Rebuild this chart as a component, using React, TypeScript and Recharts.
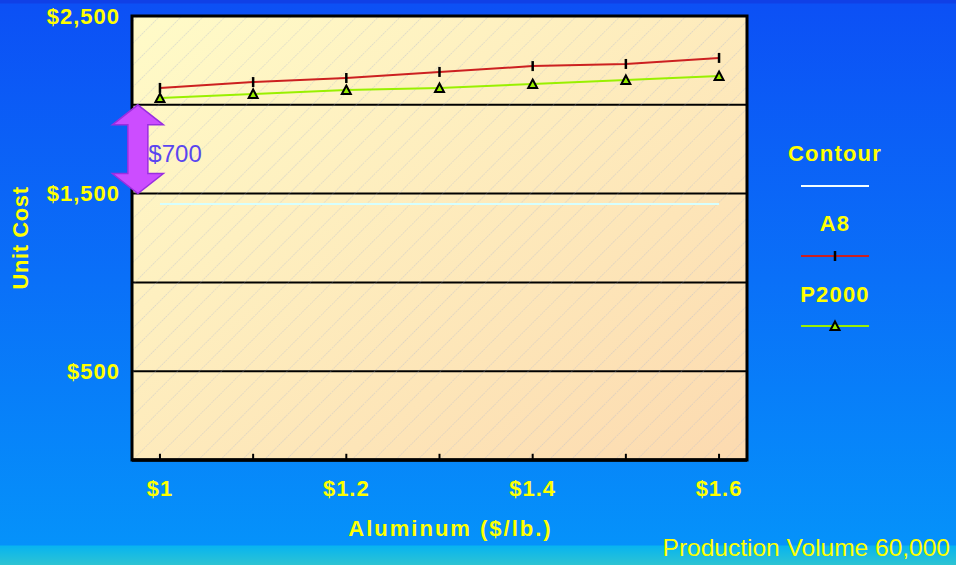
import React from 'react';
import {
  LineChart,
  Line,
  XAxis,
  YAxis,
  CartesianGrid,
  ReferenceArea,
  ReferenceLine,
  Legend,
} from 'recharts';

// aluminum price ($/lb.)
const prices = [1, 1.1, 1.2, 1.3, 1.4, 1.5, 1.6];
// unit cost per design
const a8Cost = [2095, 2128, 2151, 2185, 2218, 2230, 2264];
const p2000Cost = [2038, 2061, 2083, 2095, 2117, 2140, 2162];
const contourCost = [1442, 1442, 1442, 1442, 1442, 1442, 1442];

const seriesOrder = ['Contour', 'A8', 'P2000'];
const yTicks = [0, 500, 1000, 1500, 2000, 2500];
const xLabelTicks = [1, 1.2, 1.4, 1.6];

// the "$700" gap marker
const gapFrom = 1500;
const gapTo = 2000;
const gapText = '$700';

const YELLOW = '#ffff00';
const FONT = '"Liberation Sans", Arial, sans-serif';

const data = prices.map((p, i) => ({
  price: p,
  Contour: contourCost[i],
  A8: a8Cost[i],
  P2000: p2000Cost[i],
}));

const TickMark = ({ cx, cy }: any) => (
  <line x1={cx} y1={cy - 5} x2={cx} y2={cy + 5} stroke="#000" strokeWidth={2.5} />
);

const Triangle = ({ cx, cy }: any) => (
  <polygon
    points={`${cx},${cy - 4.5} ${cx + 4.5},${cy + 4} ${cx - 4.5},${cy + 4}`}
    fill="#99ee00"
    stroke="#000"
    strokeWidth={2}
  />
);

const markers: Record<string, any> = { A8: TickMark, P2000: Triangle };

const GapArrow = (props: any) => {
  const { x, y, width, height } = props;
  const cx = x + width / 2;
  const top = y;
  const bot = y + height;
  const hw = 25.5;
  const sw = 10;
  const hl = 20;
  const pts = [
    [cx, top],
    [cx + hw, top + hl],
    [cx + sw, top + hl],
    [cx + sw, bot - hl],
    [cx + hw, bot - hl],
    [cx, bot],
    [cx - hw, bot - hl],
    [cx - sw, bot - hl],
    [cx - sw, top + hl],
    [cx - hw, top + hl],
  ]
    .map((p) => p.join(','))
    .join(' ');
  return (
    <g>
      <polygon points={pts} fill="#cc4dff" stroke="#9a2ee0" strokeWidth={1.5} />
      <text
        x={cx + 10.5}
        y={top + height / 2 + 12.5}
        fill="#5a46f0"
        fontSize={24}
        fontFamily={FONT}
      >
        {gapText}
      </text>
    </g>
  );
};

const LegendContent = ({ payload }: any) => {
  const items = [...(payload || [])].sort(
    (a: any, b: any) => seriesOrder.indexOf(a.value) - seriesOrder.indexOf(b.value)
  );
  return (
    <svg width={180} height={215}>
      {items.map((entry: any, i: number) => {
        const Marker = markers[entry.value];
        const ty = 23 + i * 70.5;
        const ly = 56 + i * 70;
        return (
          <g key={entry.value}>
            <text
              x={75}
              y={ty}
              dy="0.36em"
              textAnchor="middle"
              fill={YELLOW}
              fontSize={22}
              fontWeight="bold"
              letterSpacing={1.2}
              fontFamily={FONT}
            >
              {entry.value}
            </text>
            <line
              x1={41}
              y1={ly}
              x2={109}
              y2={ly}
              stroke={entry.value === 'Contour' ? '#f4ffff' : entry.color}
              strokeWidth={2}
            />
            {Marker ? <Marker cx={75} cy={ly} /> : null}
          </g>
        );
      })}
    </svg>
  );
};

const YLabel = ({ viewBox }: any) => {
  const cx = viewBox.x + 20;
  const cy = viewBox.y + viewBox.height / 2;
  return (
    <text
      x={cx}
      y={cy}
      transform={`rotate(-90, ${cx}, ${cy})`}
      textAnchor="middle"
      dy="0.36em"
      fill={YELLOW}
      fontSize={22}
      fontWeight="bold"
      letterSpacing={0.6}
      fontFamily={FONT}
    >
      Unit Cost
    </text>
  );
};

const XLabel = ({ viewBox }: any) => (
  <text
    x={viewBox.x + viewBox.width / 2 + 11}
    y={536}
    textAnchor="middle"
    fill={YELLOW}
    fontSize={22}
    fontWeight="bold"
    letterSpacing={2}
    fontFamily={FONT}
  >
    Aluminum ($/lb.)
  </text>
);

const App = () => {
  const tickStyle = {
    fill: YELLOW,
    fontSize: 22,
    fontWeight: 'bold',
    fontFamily: FONT,
    letterSpacing: 1,
  };
  return (
    <div
      style={{
        position: 'absolute',
        left: 0,
        top: 0,
        width: 956,
        height: 565,
        fontFamily: FONT,
        background:
          'linear-gradient(to bottom, #1040e6 0px, #1040e6 3px, #0c50f5 4px, #0a70f8 280px, #0592fa 545px, #08b4f0 546px, #2ec4d2 565px)',
      }}
    >
      <LineChart
        width={956}
        height={565}
        data={data}
        margin={{ top: 16, right: 209, bottom: 65, left: 0 }}
      >
        <defs>
          <linearGradient id="plotFill" x1="0" y1="0" x2="1" y2="1">
            <stop offset="0%" stopColor="#fffbc8" />
            <stop offset="100%" stopColor="#fcdab0" />
          </linearGradient>
          <pattern
            id="hatch"
            width={15.5}
            height={15.5}
            patternUnits="userSpaceOnUse"
            patternTransform="rotate(45)"
          >
            <line
              x1={0}
              y1={0}
              x2={0}
              y2={15.5}
              stroke="#aab4d0"
              strokeWidth={1}
              strokeOpacity={0.7}
              strokeDasharray="1.5 1"
            />
          </pattern>
        </defs>
        <CartesianGrid
          vertical={false}
          stroke="#000"
          strokeWidth={2}
          fill="url(#plotFill)"
          fillOpacity={1}
        />
        <XAxis
          dataKey="price"
          type="number"
          domain={[0.97, 1.63]}
          ticks={xLabelTicks}
          tickFormatter={(v: number) => `$${v}`}
          tick={tickStyle}
          tickLine={false}
          tickSize={0}
          tickMargin={20}
          axisLine={{ stroke: '#000', strokeWidth: 3.5 }}
          height={40}
          label={{ content: XLabel }}
        />
        <YAxis
          type="number"
          domain={[0, 2500]}
          ticks={yTicks}
          tickFormatter={(v: number) => (v % 1000 === 500 ? `$${v.toLocaleString('en-US')}` : '')}
          tick={tickStyle}
          tickLine={false}
          axisLine={false}
          tickSize={0}
          tickMargin={12}
          width={132}
          label={{ content: YLabel }}
        />
        <ReferenceArea
          x1={0.97}
          x2={1.63}
          y1={0}
          y2={2500}
          fill="url(#hatch)"
          fillOpacity={1}
          stroke="#000"
          strokeWidth={3}
        />
        {prices.map((p) => (
          <ReferenceLine
            key={p}
            segment={[
              { x: p, y: 0 },
              { x: p, y: 35 },
            ]}
            stroke="#000"
            strokeWidth={2}
          />
        ))}
        <ReferenceArea
          x1={0.97}
          x2={0.9826}
          y1={gapFrom}
          y2={gapTo}
          ifOverflow="visible"
          shape={GapArrow}
        />
        <Line
          dataKey="Contour"
          stroke="#d6ffff"
          strokeWidth={2}
          dot={false}
          isAnimationActive={false}
        />
        <Line
          dataKey="A8"
          stroke="#cc2020"
          strokeWidth={2}
          dot={(props: any) => <TickMark key={`a8-${props.index}`} cx={props.cx} cy={props.cy} />}
          isAnimationActive={false}
        />
        <Line
          dataKey="P2000"
          stroke="#99f000"
          strokeWidth={2}
          dot={(props: any) => <Triangle key={`p-${props.index}`} cx={props.cx} cy={props.cy} />}
          isAnimationActive={false}
        />
        <Legend
          layout="horizontal"
          verticalAlign="middle"
          align="center"
          content={LegendContent}
          wrapperStyle={{ left: 760, top: 130, width: 180, height: 215 }}
        />
      </LineChart>
      <div
        style={{
          position: 'absolute',
          right: 6,
          top: 536,
          fontSize: 24.5,
          lineHeight: '24px',
          color: YELLOW,
          whiteSpace: 'nowrap',
        }}
      >
        Production Volume 60,000
      </div>
    </div>
  );
};

export default App;
